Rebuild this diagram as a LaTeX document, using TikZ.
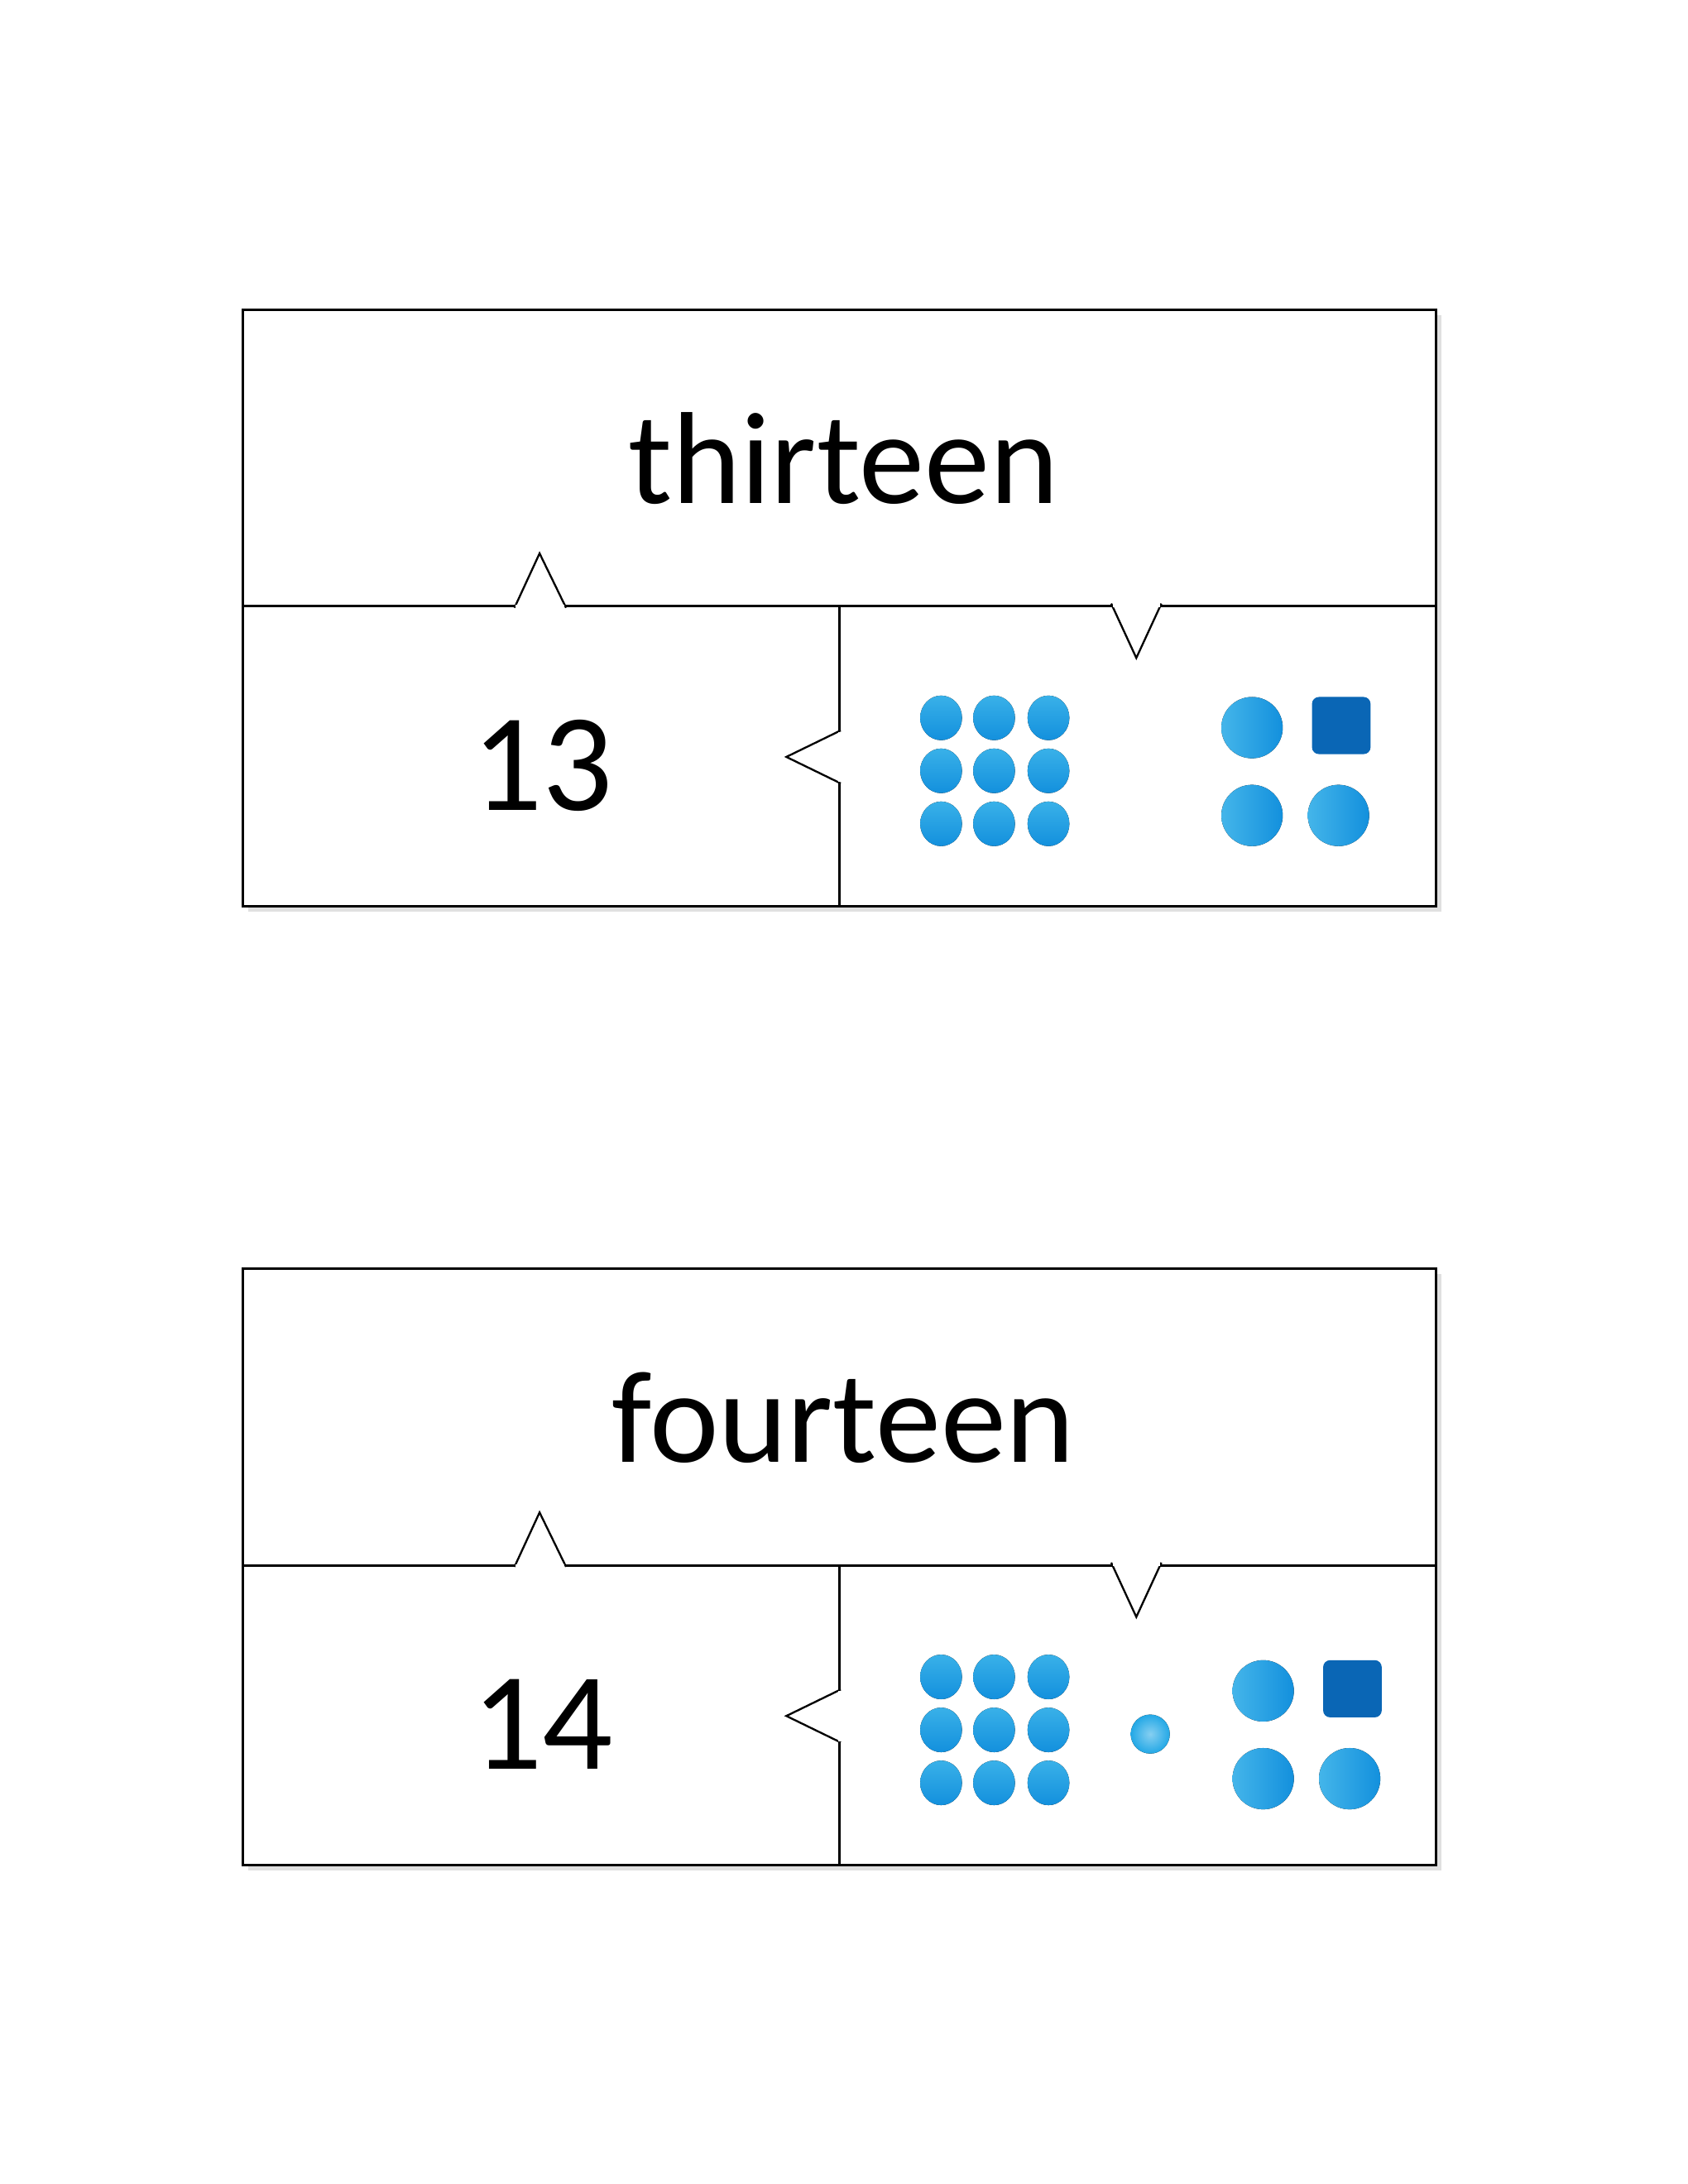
\documentclass[tikz,border=0pt]{standalone}
\usepackage{fontspec}
\setmainfont{Carlito}
\begin{document}
\begin{tikzpicture}[x=0.5055pt,y=-0.5055pt,
  box/.style={draw=black,line width=0.9pt},
  tri/.style={draw=black,fill=white,line width=0.7pt,line join=miter},
  big/.style={left color=dotc!85!white,right color=dotd,draw=none},
  sq/.style={fill=sqc,draw=none,rounded corners=2.5pt},
  word/.style={font=\fontsize{47.5}{56}\selectfont},
  num/.style={font=\fontsize{50.5}{60}\selectfont}]
\definecolor{dotc}{HTML}{23A8E6}
\definecolor{dotd}{HTML}{1390DD}
\definecolor{sqc}{HTML}{0A66B5}
\foreach \oy/\w/\n/\extra in {0/thirteen/13/0, 688/fourteen/14/1}{
 \begin{scope}[yshift=-\oy*0.5055pt]
  \fill[black!12] (178,226) rectangle (1034,654);
  \fill[white] (174,222) rectangle (1030,650);
  \draw[box] (174,222) rectangle (1030,650);
  \draw[box] (174,435) -- (1030,435);
  \draw[box] (602,435) -- (602,650);
  \node[word] (w) at (605,329) {\w};
  \node[num] (n) at (389,549) {\n};
  \draw[tri] (369,436) -- (387,397) -- (406,436);
  \fill[white] (370,434) rectangle (405,437);
  \draw[tri] (797,433) -- (815,472) -- (833,433);
  \fill[white] (798,432) rectangle (832,435.5);
  \draw[tri] (603,524) -- (564,543) -- (603,562);
  \fill[white] (601,525) rectangle (604,561);
  \foreach \x in {675,713,752}\foreach \y in {515,553,591}
    \fill[top color=dotc!90!white,bottom color=dotd] (\x,\y) ellipse (15 and 16);
  \ifnum\extra=0
   \fill[big] (898,522) ellipse (22 and 22);
   \fill[big] (898,585) ellipse (22 and 22);
   \fill[big] (960,585) ellipse (22 and 22);
   \fill[sq] (941,500) rectangle (983,541);
  \else
   \fill[inner color=dotc!55!white,outer color=dotc] (825,556) circle (14);
   \fill[big] (906,525) ellipse (22 and 22);
   \fill[big] (906,588) ellipse (22 and 22);
   \fill[big] (968,588) ellipse (22 and 22);
   \fill[sq] (949,503) rectangle (991,544);
  \fi
 \end{scope}}
\pgfresetboundingbox
\useasboundingbox (0pt,0pt) rectangle (612pt,-792pt);
\end{tikzpicture}
\end{document}
